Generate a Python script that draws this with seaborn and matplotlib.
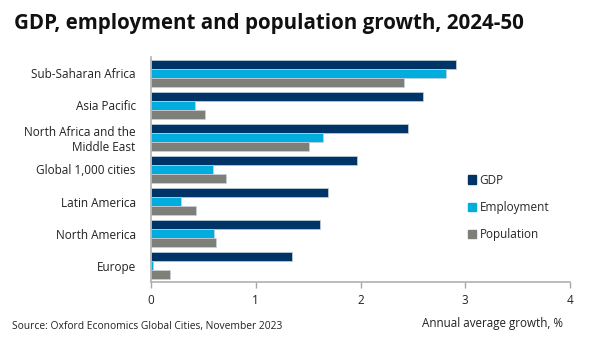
import matplotlib
matplotlib.use("Agg")
import matplotlib.pyplot as plt
import seaborn as sns
import pandas as pd

regions = ["Sub-Saharan Africa", "Asia Pacific", "North Africa and the\nMiddle East",
           "Global 1,000 cities", "Latin America", "North America", "Europe"]
gdp = [2.91, 2.60, 2.45, 1.97, 1.69, 1.61, 1.35]
employment = [2.82, 0.42, 1.64, 0.59, 0.29, 0.60, 0.02]
population = [2.42, 0.52, 1.51, 0.72, 0.43, 0.62, 0.18]
series = ["GDP", "Employment", "Population"]
colors = ["#003366", "#00ADDC", "#7F7F7A"]
xticks = [0, 1, 2, 3, 4]

rows = []
for name, vals in zip(series, [gdp, employment, population]):
    for r, v in zip(regions, vals):
        rows.append({"region": r, "series": name, "value": v})
df = pd.DataFrame(rows)

sns.set_theme(style="white")
plt.rcParams["font.family"] = ["Open Sans", "DejaVu Sans"]

fig = plt.figure(figsize=(5.96, 3.51), dpi=100)
ax = fig.add_axes([151/596, 69/351, 419/596, 225/351])
sns.barplot(data=df, x="value", y="region", hue="series", order=regions,
            hue_order=series, palette=colors, orient="h", width=0.84,
            saturation=1, edgecolor="#c8d2dc", linewidth=0.5, ax=ax, legend=True)

ax.set_xlim(0, 4)
ax.set_ylim(6.5, -0.5)
ax.set_xticks(xticks)
ax.set_xticklabels([str(t) for t in xticks], fontsize=8.5, color="#222222")
ax.tick_params(axis="x", direction="out", length=4, color="#a6a6a6", width=1, pad=5, bottom=True)
ax.tick_params(axis="y", length=0, labelsize=8.5, labelcolor="#222222", pad=11)
for t in ax.get_yticklabels():
    t.set_multialignment("right")
ax.set_xlabel("")
ax.set_ylabel("")
for s in ["top", "right"]:
    ax.spines[s].set_visible(False)
for s in ["left", "bottom"]:
    ax.spines[s].set_color("#b0b0b0")
    ax.spines[s].set_linewidth(1.2)

ax.legend_.remove()
handles = [plt.Rectangle((0, 0), 1, 1, color=c) for c in colors]
fig.legend(handles, series, loc="upper left", bbox_to_anchor=(463/596, 1 - 169/351),
           frameon=False, fontsize=8.5, handlelength=0.7, handleheight=0.7,
           handletextpad=0.3, labelspacing=1.2, borderaxespad=0)

fig.text(14/596, 1 - 29.5/351, "GDP, employment and population growth, 2024-50",
         fontsize=14.8, fontweight="bold", va="baseline", ha="left", color="#111111")
fig.text(563/596, 1 - 323/351, "Annual average growth, %", fontsize=8.4,
         va="center", ha="right", color="#222222")
fig.text(12/596, 1 - 327/351, "Source: Oxford Economics Global Cities, November 2023",
         fontsize=7.4, va="center", ha="left", color="#222222")

fig.savefig("out.png", dpi=100)
